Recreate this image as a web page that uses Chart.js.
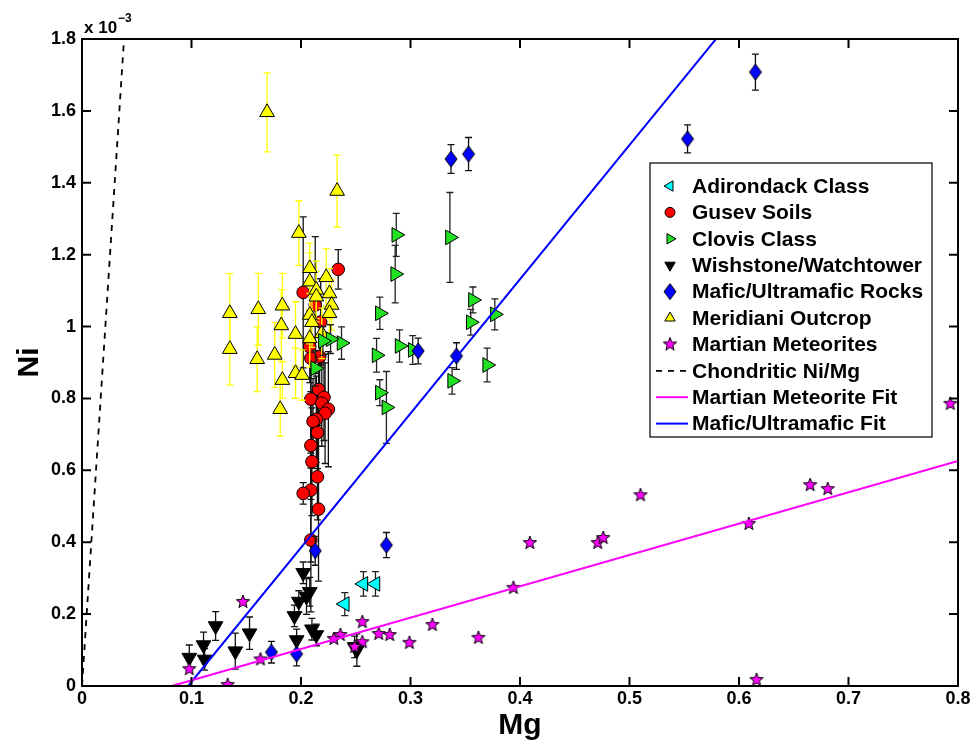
<!DOCTYPE html>
<html>
<head>
<meta charset="utf-8">
<script src="https://cdn.jsdelivr.net/npm/chart.js@4.4.1/dist/chart.umd.min.js"></script>
<style>
  html, body { margin: 0; background: #fff; }
</style>
</head>
<body>
<canvas id="c" width="975" height="744"></canvas>
<script>
// axis ticks (Ni is plotted in units of 1e-3)
const xTicks = [0, 0.1, 0.2, 0.3, 0.4, 0.5, 0.6, 0.7, 0.8];
const xTickLabels = ['0', '0.1', '0.2', '0.3', '0.4', '0.5', '0.6', '0.7', '0.8'];
const yTicks = [0, 0.2, 0.4, 0.6, 0.8, 1.0, 1.2, 1.4, 1.6, 1.8];
const yTickLabels = ['0', '0.2', '0.4', '0.6', '0.8', '1', '1.2', '1.4', '1.6', '1.8'];

// Adirondack Class
const adirMg  = [0.257, 0.268, 0.240];
const adirNi  = [0.284, 0.284, 0.228];
const adirErr = [0.034, 0.034, 0.032];

// Gusev Soils
const gusevMg  = [0.234, 0.202, 0.213, 0.218, 0.208, 0.217, 0.209, 0.216, 0.209, 0.221, 0.219, 0.225,
                  0.222, 0.214, 0.211, 0.215, 0.209, 0.210, 0.215, 0.209, 0.202, 0.216, 0.209];
const gusevNi  = [1.159, 1.095, 1.060, 1.013, 0.944, 0.916, 0.912, 0.825, 0.798, 0.803, 0.787, 0.770,
                  0.759, 0.742, 0.736, 0.705, 0.669, 0.624, 0.582, 0.545, 0.536, 0.492, 0.406];
const gusevErr = [0.055, 0.21, 0.19, 0.12, 0.10, 0.10, 0.12, 0.10, 0.15, 0.12, 0.12, 0.16,
                  0.14, 0.12, 0.12, 0.10, 0.15, 0.15, 0.12, 0.20, 0.03, 0.20, 0.20];

// Clovis Class
const clovisMg  = [0.287, 0.286, 0.336, 0.357, 0.355, 0.377, 0.272, 0.269, 0.290, 0.302, 0.338, 0.370,
                   0.272, 0.278, 0.237, 0.227, 0.220, 0.213];
const clovisNi  = [1.255, 1.146, 1.248, 1.074, 1.012, 1.034, 1.037, 0.920, 0.946, 0.935, 0.849, 0.893,
                   0.816, 0.775, 0.954, 0.965, 0.960, 0.884];
const clovisErr = [0.06, 0.08, 0.125, 0.036, 0.036, 0.043, 0.045, 0.047, 0.045, 0.04, 0.037, 0.047,
                   0.036, 0.10, 0.045, 0.04, 0.04, 0.05];

// Wishstone/Watchtower
const wishMg  = [0.098, 0.111, 0.112, 0.122, 0.140, 0.153, 0.194, 0.198, 0.202, 0.205, 0.208, 0.196,
                 0.210, 0.214, 0.249, 0.251];
const wishNi  = [0.079, 0.114, 0.074, 0.167, 0.097, 0.147, 0.195, 0.235, 0.315, 0.249, 0.262, 0.128,
                 0.158, 0.142, 0.109, 0.100];
const wishErr = [0.035, 0.036, 0.03, 0.04, 0.05, 0.045, 0.03, 0.03, 0.03, 0.05, 0.04, 0.03,
                 0.03, 0.03, 0.03, 0.045];

// Mafic/Ultramafic Rocks
const maficMg  = [0.615, 0.553, 0.337, 0.353, 0.307, 0.342, 0.278, 0.213, 0.173, 0.196];
const maficNi  = [1.708, 1.522, 1.466, 1.480, 0.932, 0.918, 0.392, 0.376, 0.094, 0.089];
const maficErr = [0.05, 0.039, 0.04, 0.046, 0.036, 0.037, 0.035, 0.04, 0.03, 0.033];

// Meridiani Outcrop
const meridMg  = [0.169, 0.233, 0.198, 0.208, 0.223, 0.208, 0.214, 0.226, 0.214, 0.228, 0.226, 0.208,
                  0.210, 0.219, 0.208, 0.135, 0.135, 0.161, 0.160, 0.176, 0.183, 0.182, 0.195, 0.183,
                  0.181, 0.195, 0.201];
const meridNi  = [1.596, 1.377, 1.260, 1.162, 1.137, 1.125, 1.102, 1.092, 1.083, 1.060, 1.037, 1.032,
                  1.012, 0.981, 0.967, 1.037, 0.937, 1.048, 0.909, 0.921, 1.058, 1.003, 0.979, 0.851,
                  0.770, 0.870, 0.865];
const meridErr = [0.11, 0.10, 0.09, 0.07, 0.08, 0.08, 0.08, 0.07, 0.07, 0.07, 0.07, 0.08,
                  0.07, 0.07, 0.08, 0.11, 0.10, 0.10, 0.09, 0.09, 0.09, 0.10, 0.09, 0.05,
                  0.075, 0.07, 0.07];

// Martian Meteorites
const metMg = [0.793, 0.665, 0.681, 0.609, 0.616, 0.510, 0.471, 0.476, 0.409, 0.394, 0.362, 0.320,
               0.299, 0.281, 0.271, 0.256, 0.256, 0.249, 0.236, 0.230, 0.163, 0.147, 0.133, 0.098];
const metNi = [0.785, 0.559, 0.548, 0.451, 0.017, 0.531, 0.398, 0.412, 0.398, 0.273, 0.134, 0.170,
               0.120, 0.142, 0.145, 0.178, 0.122, 0.109, 0.142, 0.131, 0.074, 0.234, 0.003, 0.047];

// lines: [slope, intercept]
const chondriticFit = [46.9, 0];
const meteoriteFit = [0.872, -0.0715];
const maficFit = [3.734, -0.362];

const pts = (xs, ys) => xs.map((v, i) => ({ x: v, y: ys[i] }));
// fit line from where it crosses Ni = 0 out to the axis end, clipped by the chart area
const fitLine = ([m, b]) => {
  const x0 = Math.max(0, -b / m);
  return [{ x: x0, y: m * x0 + b }, { x: 0.8, y: m * 0.8 + b }];
};

// custom marker images
function starImg(r) {
  const c = document.createElement('canvas');
  c.width = c.height = 2 * r + 4;
  const g = c.getContext('2d');
  const cx = r + 2, cy = r + 2;
  g.beginPath();
  for (let i = 0; i < 10; i++) {
    const a = -Math.PI / 2 + i * Math.PI / 5;
    const rr = i % 2 ? r * 0.42 : r;
    g.lineTo(cx + rr * Math.cos(a), cy + rr * Math.sin(a));
  }
  g.closePath();
  g.fillStyle = '#ff00ff';
  g.fill();
  g.lineWidth = 1;
  g.strokeStyle = '#000';
  g.stroke();
  return c;
}
function diamondImg(w, h) {
  const c = document.createElement('canvas');
  c.width = w + 4; c.height = h + 4;
  const g = c.getContext('2d');
  const cx = w / 2 + 2, cy = h / 2 + 2;
  g.beginPath();
  g.moveTo(cx, cy - h / 2); g.lineTo(cx + w / 2, cy); g.lineTo(cx, cy + h / 2); g.lineTo(cx - w / 2, cy);
  g.closePath();
  g.fillStyle = '#0000ff';
  g.fill();
  g.lineWidth = 1;
  g.strokeStyle = '#000';
  g.stroke();
  return c;
}
const star = starImg(7);
const diamond = diamondImg(12, 16);

// error bars drawn just before each dataset's markers
const errorBars = {
  id: 'errorBars',
  beforeDatasetDraw(chart, args) {
    const ds = chart.data.datasets[args.index];
    if (!ds.err) return;
    const { ctx, chartArea: a, scales: { x, y } } = chart;
    ctx.save();
    ctx.beginPath();
    ctx.rect(a.left, a.top, a.right - a.left, a.bottom - a.top);
    ctx.clip();
    ctx.strokeStyle = ds.errColor;
    ctx.lineWidth = 1.3;
    ds.data.forEach((p, i) => {
      const px = x.getPixelForValue(p.x);
      const t = y.getPixelForValue(p.y + ds.err[i]);
      const b = y.getPixelForValue(p.y - ds.err[i]);
      ctx.beginPath();
      ctx.moveTo(px, t); ctx.lineTo(px, b);
      ctx.moveTo(px - 3.5, t); ctx.lineTo(px + 3.5, t);
      ctx.moveTo(px - 3.5, b); ctx.lineTo(px + 3.5, b);
      ctx.stroke();
    });
    ctx.restore();
  }
};

// box, inward ticks, exponent label and legend
const frame = {
  id: 'frame',
  afterDraw(chart) {
    const { ctx, chartArea: a, scales: { x, y } } = chart;
    ctx.save();
    ctx.strokeStyle = '#000';
    ctx.lineWidth = 2;
    ctx.strokeRect(a.left, a.top, a.right - a.left, a.bottom - a.top);
    ctx.beginPath();
    xTicks.forEach(v => {
      const px = x.getPixelForValue(v);
      ctx.moveTo(px, a.bottom); ctx.lineTo(px, a.bottom - 9);
      ctx.moveTo(px, a.top); ctx.lineTo(px, a.top + 9);
    });
    yTicks.forEach(v => {
      const py = y.getPixelForValue(v);
      ctx.moveTo(a.left, py); ctx.lineTo(a.left + 9, py);
      ctx.moveTo(a.right, py); ctx.lineTo(a.right - 9, py);
    });
    ctx.stroke();

    ctx.fillStyle = '#000';
    ctx.textBaseline = 'alphabetic';
    ctx.font = 'bold 17px "Liberation Sans", Arial, sans-serif';
    ctx.fillText('x 10', a.left + 2, a.top - 6);
    const w = ctx.measureText('x 10').width;
    ctx.font = 'bold 12px "Liberation Sans", Arial, sans-serif';
    ctx.fillText('\u22123', a.left + 2 + w + 1, a.top - 17);

    // legend
    const L = { left: 650, top: 163, right: 932, bottom: 437 };
    ctx.fillStyle = '#fff';
    ctx.fillRect(L.left, L.top, L.right - L.left, L.bottom - L.top);
    ctx.lineWidth = 1.2;
    ctx.strokeStyle = '#000';
    ctx.strokeRect(L.left, L.top, L.right - L.left, L.bottom - L.top);
    const rowH = 26.4;
    chart.data.datasets.forEach((ds, i) => {
      const cy = L.top + 23 + i * rowH;
      ctx.save();
      if (ds.showLine) {
        ctx.strokeStyle = ds.borderColor;
        ctx.lineWidth = ds.borderWidth;
        ctx.setLineDash(ds.borderDash || []);
        ctx.beginPath();
        ctx.moveTo(L.left + 6, cy); ctx.lineTo(L.left + 38, cy);
        ctx.stroke();
      } else {
        ctx.fillStyle = ds.backgroundColor;
        ctx.strokeStyle = ds.borderColor;
        ctx.lineWidth = 1;
        Chart.helpers.drawPoint(ctx, {
          pointStyle: ds.pointStyle,
          rotation: ds.rotation || 0,
          radius: ds.pointStyle === 'circle' ? 5 : 6,
          borderWidth: 1
        }, L.left + 20, cy);
      }
      ctx.restore();
      ctx.fillStyle = '#000';
      ctx.font = 'bold 21px "Liberation Sans", Arial, sans-serif';
      ctx.textBaseline = 'middle';
      ctx.fillText(ds.label, L.left + 42, cy + 1);
    });
    ctx.restore();
  }
};

const tickFont = { family: '"Liberation Sans", Arial, sans-serif', size: 18, weight: 'bold' };
const titleFont = { family: '"Liberation Sans", Arial, sans-serif', size: 30, weight: 'bold' };

new Chart(document.getElementById('c'), {
  type: 'scatter',
  data: {
    datasets: [
      { label: 'Adirondack Class', data: pts(adirMg, adirNi), err: adirErr, errColor: '#222',
        pointStyle: 'triangle', rotation: -90, pointRadius: 8.5, backgroundColor: '#00ffff',
        borderColor: '#000', borderWidth: 1, order: 3 },
      { label: 'Gusev Soils', data: pts(gusevMg, gusevNi), err: gusevErr, errColor: '#111',
        pointStyle: 'circle', pointRadius: 6.3, backgroundColor: '#ff0000',
        borderColor: '#000', borderWidth: 1, order: 8 },
      { label: 'Clovis Class', data: pts(clovisMg, clovisNi), err: clovisErr, errColor: '#222',
        pointStyle: 'triangle', rotation: 90, pointRadius: 8.5, backgroundColor: '#22e022',
        borderColor: '#000', borderWidth: 1, order: 6 },
      { label: 'Wishstone/Watchtower', data: pts(wishMg, wishNi), err: wishErr, errColor: '#111',
        pointStyle: 'triangle', rotation: 180, pointRadius: 8.5, backgroundColor: '#000',
        borderColor: '#000', borderWidth: 1, order: 5 },
      { label: 'Mafic/Ultramafic Rocks', data: pts(maficMg, maficNi), err: maficErr, errColor: '#111',
        pointStyle: diamond, backgroundColor: '#0000ff', borderColor: '#000', order: 4 },
      { label: 'Meridiani Outcrop', data: pts(meridMg, meridNi), err: meridErr, errColor: '#ffff00',
        pointStyle: 'triangle', pointRadius: 8.5, backgroundColor: '#ffff00',
        borderColor: '#000', borderWidth: 1, order: 7 },
      { label: 'Martian Meteorites', data: pts(metMg, metNi),
        pointStyle: star, backgroundColor: '#ff00ff', borderColor: '#000', order: 2 },
      { label: 'Chondritic Ni/Mg', data: fitLine(chondriticFit), showLine: true, pointRadius: 0,
        borderColor: '#000', borderWidth: 1.8, borderDash: [6, 6], order: 1 },
      { label: 'Martian Meteorite Fit', data: fitLine(meteoriteFit), showLine: true, pointRadius: 0,
        borderColor: '#ff00ff', borderWidth: 2, order: 1 },
      { label: 'Mafic/Ultramafic Fit', data: fitLine(maficFit), showLine: true, pointRadius: 0,
        borderColor: '#0000ff', borderWidth: 2, order: 1 }
    ]
  },
  options: {
    responsive: false,
    animation: false,
    layout: { padding: { top: 39, right: 17, left: 0, bottom: 0 } },
    plugins: { legend: { display: false }, tooltip: { enabled: false } },
    scales: {
      x: {
        type: 'linear', min: 0, max: 0.8,
        afterBuildTicks: s => { s.ticks = xTicks.map(v => ({ value: v })); },
        afterFit: s => { s.height = 58; },
        ticks: { font: tickFont, color: '#000', padding: 2, callback: (v, i) => xTickLabels[i] },
        grid: { display: false, drawTicks: false },
        border: { display: false },
        title: { display: true, text: 'Mg', font: titleFont, color: '#000', padding: { top: 0, bottom: 0 } }
      },
      y: {
        type: 'linear', min: 0, max: 1.8,
        afterBuildTicks: s => { s.ticks = yTicks.map(v => ({ value: v })); },
        afterFit: s => { s.width = 82; },
        ticks: { font: tickFont, color: '#000', padding: 6, callback: (v, i) => yTickLabels[i] },
        grid: { display: false, drawTicks: false },
        border: { display: false },
        title: { display: true, text: 'Ni', font: titleFont, color: '#000', padding: { top: 12, bottom: 0 } }
      }
    }
  },
  plugins: [errorBars, frame]
});
</script>
</body>
</html>
